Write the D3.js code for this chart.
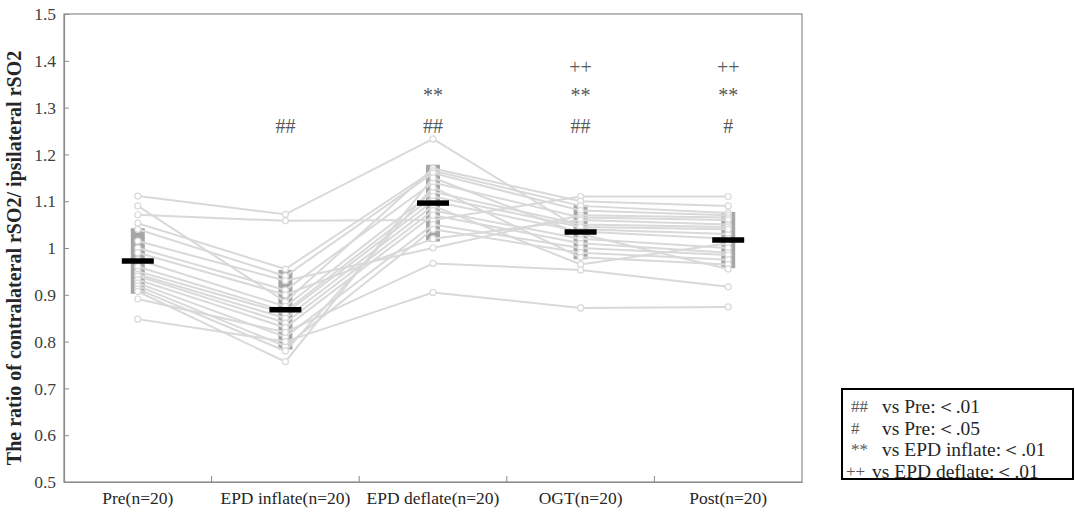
<!DOCTYPE html>
<html>
<head>
<meta charset="utf-8">
<script src="https://cdn.jsdelivr.net/npm/d3@7"></script>
<style>
  html, body { margin: 0; padding: 0; background: #fff; }
  svg { display: block; }
  text { font-family: "Liberation Serif", "Times New Roman", serif; }
</style>
</head>
<body>
<svg id="chart" width="1075" height="514"></svg>
<script>
// Measurement phases
const phases = ["Pre(n=20)", "EPD inflate(n=20)", "EPD deflate(n=20)", "OGT(n=20)", "Post(n=20)"];

// Individual ratios per subject, one value per phase
const subject01 = [1.111, 1.072, 1.233, 1.040, 1.030];
const subject02 = [1.071, 1.058, 1.060, 1.110, 1.110];
const subject03 = [1.090, 0.885, 1.170, 1.100, 1.090];
const subject04 = [1.053, 0.955, 1.165, 1.090, 1.075];
const subject05 = [1.040, 0.940, 1.160, 1.080, 1.070];
const subject06 = [1.015, 0.930, 1.000, 1.070, 1.065];
const subject07 = [1.000, 0.910, 1.140, 1.065, 1.060];
const subject08 = [0.990, 0.900, 1.020, 1.060, 1.050];
const subject09 = [0.975, 0.875, 1.120, 1.050, 1.045];
const subject10 = [0.960, 0.865, 1.110, 1.045, 1.040];
const subject11 = [0.950, 0.860, 1.100, 1.035, 1.020];
const subject12 = [0.944, 0.850, 1.090, 0.965, 1.010];
const subject13 = [0.940, 0.840, 1.080, 1.020, 1.000];
const subject14 = [0.932, 0.830, 1.070, 1.010, 0.990];
const subject15 = [0.925, 0.810, 1.050, 1.000, 0.985];
const subject16 = [0.919, 0.790, 1.040, 0.990, 0.975];
const subject17 = [0.912, 0.780, 1.130, 0.980, 0.965];
const subject18 = [0.907, 0.757, 1.150, 1.030, 0.955];
const subject19 = [0.891, 0.820, 0.967, 0.953, 0.917];
const subject20 = [0.848, 0.800, 0.905, 0.872, 0.874];
const subjects = [subject01, subject02, subject03, subject04, subject05, subject06, subject07,
  subject08, subject09, subject10, subject11, subject12, subject13, subject14, subject15,
  subject16, subject17, subject18, subject19, subject20];

// Group mean and standard deviation per phase
const means = [0.972, 0.868, 1.096, 1.034, 1.017];
const sds = [0.070, 0.085, 0.082, 0.058, 0.060];

// Y axis ticks and their labels
const yTicks = [0.5, 0.6, 0.7, 0.8, 0.9, 1.0, 1.1, 1.2, 1.3, 1.4, 1.5];
const yTickLabels = ["0.5", "0.6", "0.7", "0.8", "0.9", "1", "1.1", "1.2", "1.3", "1.4", "1.5"];

// Significance markers: phase, stacked row level and symbol
const markPhases = ["EPD inflate(n=20)", "EPD deflate(n=20)", "EPD deflate(n=20)",
  "OGT(n=20)", "OGT(n=20)", "OGT(n=20)", "Post(n=20)", "Post(n=20)", "Post(n=20)"];
const markLevels = [1.261, 1.261, 1.327, 1.261, 1.327, 1.387, 1.261, 1.327, 1.387];
const markSymbols = ["##", "##", "**", "##", "**", "++", "#", "**", "++"];

// Legend entries
const legendSymbols = ["##", "#", "**", "++"];
const legendTexts = ["vs Pre:＜.01", "vs Pre:＜.05", "vs EPD inflate:＜.01", "vs EPD deflate:＜.01"];

const svg = d3.select("#chart");
const margin = { left: 64, top: 14, right: 802, bottom: 482 };

const x = d3.scaleBand().domain(phases).range([margin.left, margin.right]).padding(0);
const y = d3.scaleLinear().domain([0.5, 1.5]).range([margin.bottom, margin.top]);
const cx = p => x(p) + x.bandwidth() / 2;

const axisColor = "#8c8c8c";
const textColor = "#404040";
const serif = "Liberation Serif, Times New Roman, serif";

// Plot frame
svg.append("rect")
  .attr("x", margin.left).attr("y", margin.top)
  .attr("width", margin.right - margin.left).attr("height", margin.bottom - margin.top)
  .attr("fill", "none").attr("stroke", axisColor).attr("stroke-width", 1.2);

// Y axis
const yAxis = svg.append("g")
  .attr("transform", `translate(${margin.left},0)`)
  .call(d3.axisLeft(y).tickValues(yTicks).tickSizeInner(-5).tickSizeOuter(0)
    .tickPadding(8).tickFormat((d, i) => yTickLabels[i]))
  .attr("font-family", serif).attr("font-size", 17.5);
yAxis.select(".domain").attr("stroke", axisColor).attr("stroke-width", 1.2);
yAxis.selectAll(".tick line").attr("stroke", axisColor);
yAxis.selectAll(".tick text")
  .attr("x", -8).attr("fill", textColor);

// X axis with ticks between phases, pointing inward
const xAxis = svg.append("g")
  .attr("transform", `translate(0,${margin.bottom})`)
  .call(d3.axisBottom(x).tickSize(0).tickPadding(10))
  .attr("font-family", serif).attr("font-size", 17.5);
xAxis.select(".domain").attr("stroke", axisColor).attr("stroke-width", 1.2);
xAxis.selectAll(".tick text").attr("fill", "#262626");
svg.append("g").selectAll("line")
  .data(phases.slice(1))
  .join("line")
  .attr("x1", d => x(d)).attr("x2", d => x(d))
  .attr("y1", margin.bottom).attr("y2", margin.bottom - 6)
  .attr("stroke", axisColor).attr("stroke-width", 1);

// Y axis title
svg.append("text")
  .attr("transform", `translate(21,${(margin.top + margin.bottom) / 2 + 10}) rotate(-90)`)
  .attr("text-anchor", "middle")
  .attr("fill", "#262626")
  .style("font-size", "20px").style("font-weight", "bold")
  .text("The ratio of contralateral rSO2/ ipsilateral rSO2");

// SD bars (mean ± SD)
svg.append("g").selectAll("line")
  .data(phases)
  .join("line")
  .attr("x1", d => cx(d)).attr("x2", d => cx(d))
  .attr("y1", (d, i) => y(means[i] - sds[i]))
  .attr("y2", (d, i) => y(means[i] + sds[i]))
  .attr("stroke", "#a6a6a6").attr("stroke-width", 14);

// Individual trajectories
const line = d3.line().x((d, i) => cx(phases[i])).y(d => y(d));
svg.append("g").selectAll("path")
  .data(subjects)
  .join("path")
  .attr("d", line)
  .attr("fill", "none")
  .attr("stroke", "#d9d9d9").attr("stroke-width", 2);

// Individual points
const pts = svg.append("g");
subjects.forEach(s => {
  pts.selectAll(null)
    .data(s)
    .join("circle")
    .attr("cx", (d, i) => cx(phases[i]))
    .attr("cy", d => y(d))
    .attr("r", 3)
    .attr("fill", "#fff")
    .attr("stroke", "#d9d9d9").attr("stroke-width", 1.2);
});

// Group means
svg.append("g").selectAll("line")
  .data(phases)
  .join("line")
  .attr("x1", d => cx(d) - 16).attr("x2", d => cx(d) + 16)
  .attr("y1", (d, i) => y(means[i])).attr("y2", (d, i) => y(means[i]))
  .attr("stroke", "#000").attr("stroke-width", 5.5);

// Significance markers
svg.append("g").selectAll("text")
  .data(markSymbols)
  .join("text")
  .attr("x", (d, i) => cx(markPhases[i]))
  .attr("y", (d, i) => y(markLevels[i]))
  .attr("dy", "0.35em")
  .attr("text-anchor", "middle")
  .attr("fill", "#595959")
  .style("font-size", "20px")
  .text(d => d);

// Legend
const legend = svg.append("g");
legend.append("rect")
  .attr("x", 842).attr("y", 389).attr("width", 231).attr("height", 90)
  .attr("fill", "#fff").attr("stroke", "#000").attr("stroke-width", 2);
const rowY = i => 406 + i * 21.7;
legend.selectAll("text.sym")
  .data(legendSymbols)
  .join("text")
  .attr("class", "sym")
  .attr("x", (d, i) => i === 3 ? 846 : 851).attr("y", (d, i) => rowY(i))
  .attr("dy", "0.35em")
  .attr("fill", "#595959")
  .style("font-size", "17px")
  .text(d => d);
legend.selectAll("text.lab")
  .data(legendTexts)
  .join("text")
  .attr("class", "lab")
  .attr("x", (d, i) => i === 3 ? 872 : 882).attr("y", (d, i) => rowY(i))
  .attr("dy", "0.35em")
  .attr("fill", "#262626")
  .style("font-size", "19.5px")
  .text(d => d);
</script>
</body>
</html>
